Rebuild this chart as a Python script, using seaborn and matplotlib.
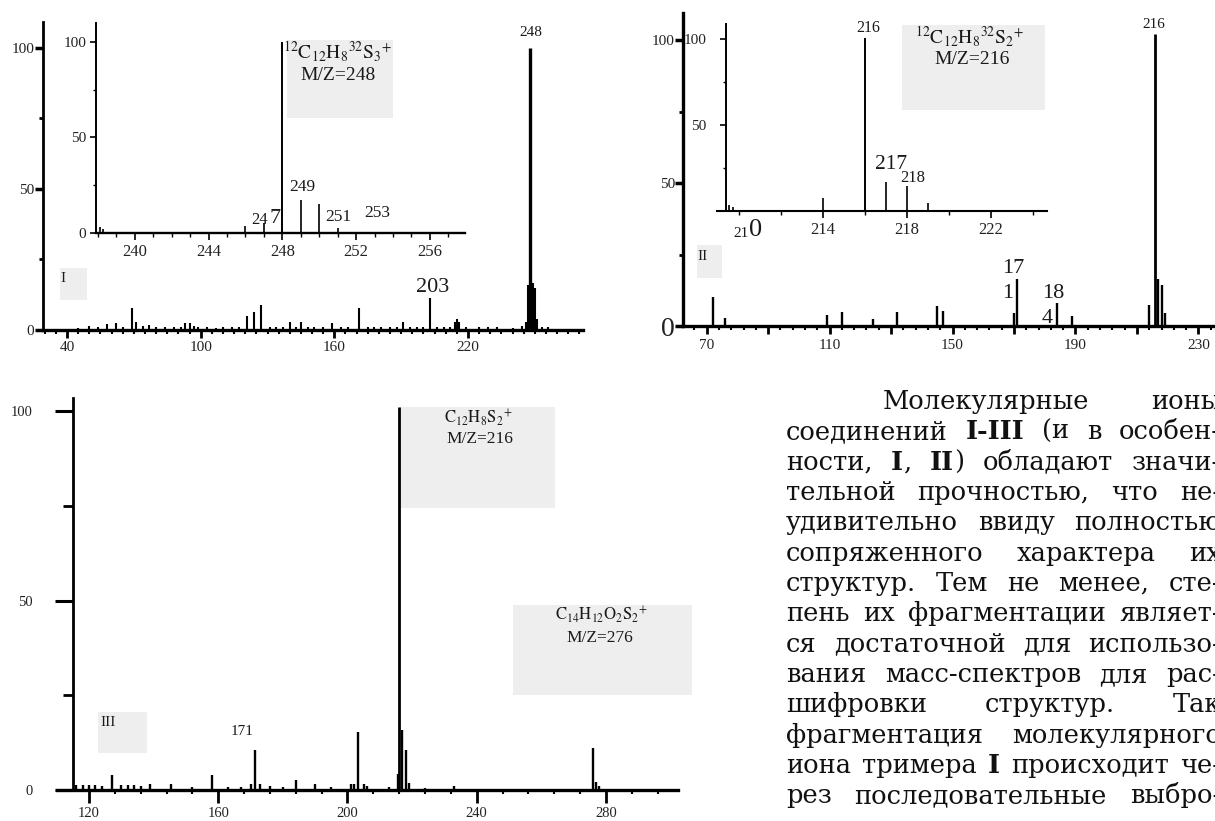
import matplotlib
matplotlib.use("Agg")
import matplotlib.pyplot as plt
import matplotlib.transforms as mtransforms
from matplotlib.patches import Rectangle
from matplotlib.ticker import MultipleLocator, FixedLocator
import seaborn as sns

W, H = 1215, 821

# ── DATA: spectrum I (main + zoom of the molecular ion) ──────────
mz_1 = [45, 50, 54, 58, 62, 65, 69, 71, 74, 77, 80, 84, 88, 91, 93, 95, 97, 99,
        103, 107, 110, 114, 117, 121, 124, 127, 131, 134, 137, 140, 143, 145,
        148, 151, 155, 159, 163, 166, 171, 175, 178, 181, 185, 188, 191, 194,
        197, 200, 203, 206, 209, 212, 214, 215, 216, 219, 225, 229, 233, 240,
        244, 246, 247, 248, 249, 250, 251, 253, 256]
int_1 = [0.8, 1.4, 1.2, 2.0, 2.6, 1.2, 7.7, 3.0, 1.5, 1.8, 1.0, 1.2, 1.0, 1.2, 2.6, 2.6, 1.4, 1.0,
         1.0, 0.8, 1.0, 1.0, 1.0, 5.0, 6.5, 8.9, 1.2, 1.0, 1.2, 3.0, 1.2, 3.0,
         1.2, 1.0, 1.0, 2.4, 1.0, 1.2, 7.7, 1.0, 1.2, 1.0, 1.2, 1.0, 3.0, 1.0,
         1.0, 1.0, 11.5, 1.2, 1.0, 1.2, 3.0, 4.0, 3.0, 1.2, 1.0, 1.0, 1.2, 0.8,
         1.5, 3.0, 16.0, 100, 16.5, 15.0, 4.0, 1.0, 1.0]
mz_1z = [238.1, 238.3, 246, 247, 248, 249, 250, 251]
int_1z = [3.0, 2.0, 3.5, 5.0, 100, 17.0, 15.0, 2.3]

# ── DATA: spectrum II ───────────────────────────────────────────
mz_2 = [72, 76, 109, 114, 124, 132, 145, 147, 170, 171, 184, 189, 214, 216, 217, 218, 219]
int_2 = [10.3, 2.9, 4.0, 5.0, 2.3, 5.0, 7.1, 5.4, 4.4, 16.3, 8.2, 3.5, 7.3, 102, 16.3, 14.3, 4.4]
mz_2z = [209.5, 209.7, 214, 216, 217, 218, 219]
int_2z = [3.3, 2.0, 7.6, 101, 17.0, 14.6, 4.7]

# ── DATA: spectrum III ──────────────────────────────────────────
mz_3 = [116, 118, 120, 122, 124, 127, 130, 132, 134, 136,
        139, 145.5, 152, 158, 163, 167, 170, 171.5, 173, 176,
        180, 184, 190, 195, 201, 202, 203.3, 205, 206, 213,
        215.5, 216, 217, 218, 219, 224, 233, 276, 277, 278]
int_3 = [1.2, 1.2, 1.2, 1.2, 1.0, 4.0, 1.2, 1.2, 1.2, 1.0,
         1.6, 1.6, 0.8, 4.0, 0.8, 0.8, 1.5, 10.5, 1.5, 1.0,
         0.8, 2.6, 1.6, 0.8, 1.5, 1.5, 15.4, 1.5, 1.0, 0.8,
         4.1, 101, 15.8, 10.5, 1.8, 0.5, 1.0, 11.0, 2.0, 1.0]

# peak labels: (m/z of peak, text, dx px, dy px, font size)
labels_1 = [(248, "248", 0, 15, 11), (203, "203", 2, 10, 16)]
labels_1z = [(249, "249", 1.4, 13, 12.5), (251, "251", 0.6, 11, 12.5),
             (253, "253", 2.8, 19.7, 12.5), (247, "24", -4.3, 3, 12), (247, "7", 11.2, 4.8, 16)]
labels_2 = [(216, "216", -2, 10, 11), (171, "17", -4, 11.4, 16), (171, "1", -9, -13.6, 16),
            (184, "18", -4, 9.2, 16), (184, "4", -10, -15.5, 16)]
labels_2z = [(216, "216", 3, 10, 11.5), (217, "217", 4.5, 17.5, 15.5), (218, "218", 5.5, 8.0, 12)]
labels_3 = [(171.5, "171", -13.3, 18.5, 11)]

text_lines = [
    "Молекулярные ионы",
    "соединений **I-III** (и в особен-",
    "ности, **I**, **II**) обладают значи-",
    "тельной прочностью, что не-",
    "удивительно ввиду полностью",
    "сопряженного характера их",
    "структур. Тем не менее, сте-",
    "пень их фрагментации являет-",
    "ся достаточной для использо-",
    "вания масс-спектров для рас-",
    "шифровки структур. Так",
    "фрагментация молекулярного",
    "иона тримера **I** происходит че-",
    "рез последовательные выбро-",
]

# ── STYLE ───────────────────────────────────────────────────────
sns.set_theme(style="white")
plt.rcParams.update({
    "font.family": ["Liberation Serif", "DejaVu Serif"],
    "mathtext.fontset": "stix",
    "axes.facecolor": "none",
    "figure.facecolor": "white",
    "axes.edgecolor": "black",
    "text.color": "#1a1a1a",
    "xtick.color": "black",
    "ytick.color": "black",
    "xtick.labelcolor": "#222222",
    "ytick.labelcolor": "#222222",
})

fig = plt.figure(figsize=(W / 100, H / 100), dpi=100)
# pixel coordinates measured from the top-left corner
pix = mtransforms.Affine2D().scale(1 / W, -1 / H).translate(0, 1) + fig.transFigure


def add_ax(l, t, r, b):
    return fig.add_axes([l / W, 1 - b / H, (r - l) / W, (b - t) / H])


def grey_box(l, t, r, b):
    fig.patches.append(Rectangle((l, t), r - l, b - t, transform=pix,
                                 facecolor="#eeeeee", edgecolor="none", zorder=-5))


def stems(ax, mz, inten, lw_small, lw_big):
    widths = [lw_big if v > 50 else lw_small for v in inten]
    ax.vlines(mz, 0, inten, colors="black", linewidths=widths)


def label_peaks(ax, mz, inten, specs):
    for m, txt, dx, dy, size in specs:
        h = inten[mz.index(m)] if m in mz else 0
        ax.annotate(txt, xy=(m, h), xytext=(dx * 0.72, dy * 0.72),
                    textcoords="offset points", ha="center", va="center",
                    fontsize=size, annotation_clip=False)


def style_axes(ax, lw_left, lw_bottom):
    sns.despine(ax=ax)
    ax.spines["left"].set_linewidth(lw_left)
    ax.spines["bottom"].set_linewidth(lw_bottom)
    ax.grid(False)
    ax.tick_params(which="both", bottom=True, left=True, direction="out")


# ── SPECTRUM I ──────────────────────────────────────────────────
grey_box(60, 268, 87, 300)
grey_box(287, 40, 393, 118)

ax1 = add_ax(42.7, 22, 583, 330)
stems(ax1, mz_1, int_1, 1.5, 2.4)
ax1.set_xlim(29.1, 271.6)
ax1.set_ylim(0, 109.2)
style_axes(ax1, 2.0, 2.4)
ax1.set_xticks([40, 100, 160, 220])
ax1.xaxis.set_minor_locator(MultipleLocator(5))
ax1.set_yticks([0, 50, 100])
ax1.yaxis.set_minor_locator(FixedLocator([25, 75]))
ax1.tick_params(axis="x", which="major", length=6, width=2, pad=2, labelsize=11)
ax1.tick_params(axis="x", which="minor", length=3, width=1.5)
ax1.tick_params(axis="y", which="major", length=6, width=2.5, pad=0, labelsize=11)
ax1.tick_params(axis="y", which="minor", length=3, width=2)
label_peaks(ax1, mz_1, int_1, labels_1)

ax1z = add_ax(96, 22.7, 465, 232.7)
stems(ax1z, mz_1z, int_1z, 1.2, 1.4)
ax1z.set_xlim(237.9, 257.9)
ax1z.set_ylim(0, 110)
style_axes(ax1z, 1.4, 1.7)
ax1z.set_xticks([240, 244, 248, 252, 256])
ax1z.xaxis.set_minor_locator(MultipleLocator(1))
ax1z.set_yticks([0, 50, 100])
ax1z.yaxis.set_minor_locator(FixedLocator([25, 75]))
ax1z.tick_params(axis="x", which="major", length=5, width=1.2, pad=3, labelsize=12)
ax1z.tick_params(axis="x", which="minor", length=3, width=1.0)
ax1z.tick_params(axis="y", which="major", length=4, width=1.2, pad=3, labelsize=11)
ax1z.tick_params(axis="y", which="minor", length=2, width=1.0)
label_peaks(ax1z, mz_1z, int_1z, labels_1z)

fig.text(63, 279, "I", transform=pix, fontsize=11, ha="center", va="center")
fig.text(338, 52, r"$^{12}\mathrm{C}_{12}\mathrm{H}_{8}{}^{32}\mathrm{S}_{3}{}^{+}$",
         transform=pix, fontsize=14, ha="center", va="center")
fig.text(338, 76, "M/Z=248", transform=pix, fontsize=14, ha="center", va="center")

# ── SPECTRUM II ─────────────────────────────────────────────────
grey_box(697, 245, 722, 278)
grey_box(901.7, 25, 1045, 110)

ax2 = add_ax(683.3, 12.7, 1215, 326)
stems(ax2, mz_2, int_2, 1.7, 2.0)
ax2.set_xlim(62.4, 235.4)
ax2.set_ylim(0, 109.6)
style_axes(ax2, 2.4, 2.4)
ax2.set_xticks([70, 90, 110, 130, 150, 170, 190, 210, 230])
ax2.set_xticklabels(["70", "", "110", "", "150", "", "190", "", "230"])
ax2.xaxis.set_minor_locator(FixedLocator(list(range(66, 236, 4))))
ax2.set_yticks([0, 50, 100])
ax2.set_yticklabels(["0", "50", "100"])
ax2.yaxis.set_minor_locator(FixedLocator([25, 75]))
ax2.tick_params(axis="x", which="major", length=6, width=2, pad=3, labelsize=11)
ax2.tick_params(axis="x", which="minor", length=3, width=1.5)
ax2.tick_params(axis="y", which="major", length=6, width=2.5, pad=0, labelsize=11)
ax2.tick_params(axis="y", which="minor", length=3, width=2)
ax2.get_yticklabels()[0].set_fontsize(20)
label_peaks(ax2, mz_2, int_2, labels_2)

ax2z = add_ax(716.7, 24, 1046.7, 210.7)
stems(ax2z, mz_2z, int_2z, 1.2, 1.4)
ax2z.set_xlim(208.92, 224.66)
ax2z.set_ylim(0, 109)
style_axes(ax2z, 1.4, 1.5)
ax2z.spines["left"].set_position(("data", 209.36))
ax2z.set_xticks([214, 218, 222])
ax2z.xaxis.set_minor_locator(FixedLocator([210, 212, 216, 220, 224]))
ax2z.set_yticks([0, 50, 100])
ax2z.set_yticklabels(["", "50", "100"])
ax2z.yaxis.set_minor_locator(FixedLocator([25, 75]))
ax2z.tick_params(axis="x", which="major", length=5, width=1.2, pad=3, labelsize=12)
ax2z.tick_params(axis="x", which="minor", length=3, width=1.0)
ax2z.tick_params(axis="y", which="major", length=4, width=1.2, pad=10, labelsize=11)
ax2z.tick_params(axis="y", which="minor", length=2, width=1.0)
label_peaks(ax2z, mz_2z, int_2z, labels_2z)
xt = ax2z.get_xaxis_transform()
ax2z.text(210.08, -0.12, "21", transform=xt, fontsize=11, ha="center", va="center")
ax2z.text(210.75, -0.105, "0", transform=xt, fontsize=19, ha="center", va="center")

fig.text(703, 256, "II", transform=pix, fontsize=11, ha="center", va="center")
fig.text(970, 37, r"$^{12}\mathrm{C}_{12}\mathrm{H}_{8}{}^{32}\mathrm{S}_{2}{}^{+}$",
         transform=pix, fontsize=14, ha="center", va="center")
fig.text(972, 60, "M/Z=216", transform=pix, fontsize=14, ha="center", va="center")

# ── SPECTRUM III ────────────────────────────────────────────────
grey_box(98, 712, 147, 753)
grey_box(400, 407, 555, 508)
grey_box(513, 605, 692, 695)

ax3 = add_ax(56.7, 398.3, 678.3, 790)
stems(ax3, mz_3, int_3, 1.7, 2.0)
ax3.set_xlim(110, 302.4)
ax3.set_ylim(0, 103.4)
style_axes(ax3, 2.0, 2.4)
ax3.spines["left"].set_position(("data", 114.9))
ax3.set_xticks([120, 160, 200, 240, 280])
ax3.xaxis.set_minor_locator(FixedLocator(list(range(120, 300, 8))))
ax3.set_yticks([0, 50, 100])
ax3.yaxis.set_minor_locator(FixedLocator([25, 75]))
ax3.tick_params(axis="x", which="major", length=9, width=2, pad=3, labelsize=10.5)
ax3.tick_params(axis="x", which="minor", length=3, width=1.5)
ax3.tick_params(axis="y", which="major", length=13, width=2.2, pad=16, labelsize=10.5)
ax3.tick_params(axis="y", which="minor", length=7, width=2)
label_peaks(ax3, mz_3, int_3, labels_3)

fig.text(108, 722, "III", transform=pix, fontsize=11, ha="center", va="center")
fig.text(478, 418, r"$\mathrm{C}_{12}\mathrm{H}_{8}\mathrm{S}_{2}{}^{+}$",
         transform=pix, fontsize=12, ha="center", va="center")
fig.text(480, 439, "M/Z=216", transform=pix, fontsize=12.5, ha="center", va="center")
fig.text(602, 615, r"$\mathrm{C}_{14}\mathrm{H}_{12}\mathrm{O}_{2}\mathrm{S}_{2}{}^{+}$",
         transform=pix, fontsize=12, ha="center", va="center")
fig.text(600, 638, "M/Z=276", transform=pix, fontsize=12.5, ha="center", va="center")

# ── JUSTIFIED TEXT COLUMN ───────────────────────────────────────
renderer = fig.canvas.get_renderer()
text_left, text_indent, text_right = 786, 883, 1221
for i, line in enumerate(text_lines):
    y = 409 + 30.33 * i
    left = text_indent if i == 0 else text_left
    words = []
    for w in line.split(" "):
        parts = w.split("**")
        segs = []
        for k, p in enumerate(parts):
            if not p:
                continue
            t = fig.text(0, y, p, transform=pix, fontsize=18.5,
                         family="DejaVu Serif", fontweight="bold" if k % 2 else "normal",
                         ha="left", va="baseline", color="#111111")
            segs.append((t, t.get_window_extent(renderer=renderer).width))
        words.append(segs)
    widths = [sum(wd for _, wd in segs) for segs in words]
    gap = (text_right - left - sum(widths)) / max(len(words) - 1, 1)
    x = left
    for segs, ww in zip(words, widths):
        xx = x
        for t, wd in segs:
            t.set_x(xx)
            xx += wd
        x += ww + gap

fig.savefig("out.png", dpi=100)
